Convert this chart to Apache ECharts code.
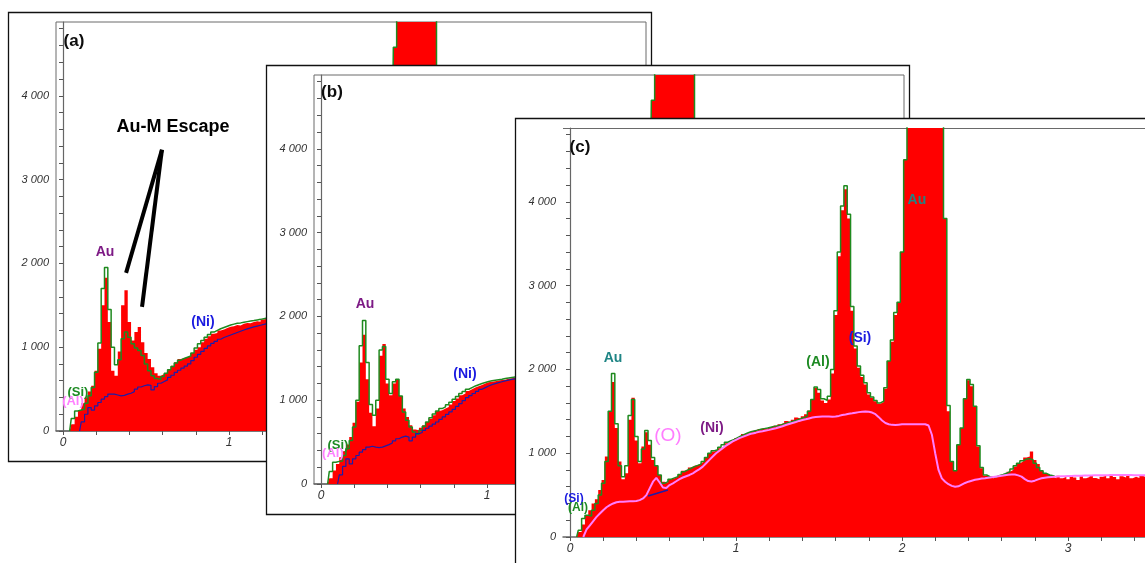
<!DOCTYPE html>
<html><head><meta charset="utf-8">
<script src="https://cdn.jsdelivr.net/npm/echarts@6/dist/echarts.min.js"></script>
<style>html,body{margin:0;padding:0;background:#fff}#c{width:1145px;height:563px}</style>
</head><body><div id="c"></div>
<script>
// ---------- data (energy bins of 0.02 keV; counts) ----------
const BIN = 0.02;

// Panel (a)
const A_RED_START = 0.00;
const A_RED = [0,0,0,80,170,250,330,400,470,540,720,980,1500,1830,1300,720,660,950,1500,1680,1300,1080,1180,1240,1060,930,860,760,690,660,680,700,740,780,820,860,870,880,890,930,970,1000,1060,1100,1130,1160,1170,1200,1210,1230,1245,1250,1265,1260,1280,1290,1285,1300,1310,1305,1330,1340,1350,1360,1370,1375];
const A_FIT_START = 0.04;
const A_FIT = [0,150,240,250,260,330,420,520,700,1050,1700,1950,1450,1000,790,850,1100,1180,1120,1040,990,960,900,800,720,660,625,615,650,690,730,770,810,845,865,880,895,930,990,1040,1080,1120,1150,1180,1200,1220,1235,1250,1265,1275,1285,1290,1298,1305,1312,1318,1325,1332,1340,1347,1354,1360,1366,1372];
const A_BKG_START = 0.10;
const A_BKG = [0,110,200,280,250,300,340,380,410,440,440,430,420,425,440,450,470,500,525,540,550,545,490,530,570,590,610,640,665,700,725,750,775,800,840,880,915,950,985,1015,1045,1070,1095,1115,1130,1145,1160,1175,1190,1205,1218,1230,1242,1252,1262,1272,1282,1290,1296,1302,1308];
const A_PEAK_START = 1.98;
const A_PEAK = [2900,4580,5600,7200,8600,9600,10200,10000,9400,8400,7300,6200,5500,5000,3800,1500,900];

// Panel (b)
const B_RED_START = 0.00;
const B_RED = [0,0,0,70,160,240,320,390,470,560,730,980,1450,1780,1250,850,690,900,1530,1670,1200,1060,1200,1250,1050,900,800,700,650,640,670,700,740,780,820,870,880,900,920,950,990,1020,1060,1080,1110,1130,1150,1165,1180,1200,1215,1220,1225,1235,1240,1245,1255,1262,1268,1275,1280,1285];
const B_FIT_START = 0.04;
const B_FIT = [0,150,260,270,275,340,420,520,680,1000,1650,1950,1450,950,820,1000,1600,1640,1250,1080,1220,1250,1050,860,760,680,620,595,640,690,740,790,835,870,900,920,945,975,1010,1045,1080,1105,1130,1150,1170,1185,1200,1212,1224,1232,1238,1244,1250,1258,1264,1270,1276,1282,1287,1292];
const B_BKG_START = 0.10;
const B_BKG = [0,110,210,300,240,300,340,380,410,440,450,440,435,440,455,470,490,515,540,560,572,560,515,560,600,615,640,665,690,715,740,770,800,830,860,890,925,960,995,1030,1055,1080,1105,1130,1150,1170,1185,1198,1210,1220,1230,1240,1248,1255,1262,1268,1274];
const B_PEAK_START = 1.98;
const B_PEAK = [2900,4580,5600,7200,8600,9600,10200,10000,9400,8400,7300,6200,5500,5000,3800,1500,900];

// Panel (c)
const C_RED_START = 0.00;
const C_RED = [0,0,0,60,150,260,320,400,450,560,680,960,1500,1850,1300,900,690,760,1400,1660,1150,880,1080,1250,1100,920,860,740,660,650,
690,700,720,750,790,800,830,850,860,880,900,950,990,1020,1035,1060,1080,1120,1140,1150,
1180,1200,1230,1235,1250,1270,1265,1290,1300,1295,1310,1330,1320,1345,1360,1385,1370,1400,1425,1410,
1440,1465,1510,1640,1780,1720,1630,1600,1640,1950,2650,3350,3900,4150,3800,2700,2250,2020,1910,1820,
1700,1660,1620,1590,1610,1770,2100,2330,2650,2800,3400,4500,7200,8600,9600,10200,10000,9400,8400,7300,
6200,5500,5000,3800,1500,900,800,1100,1300,1650,1870,1800,1550,1080,820,730,720,700,710,730,
740,750,780,800,840,880,900,950,960,1020,920,870,800,760,740,720,700,730,700,720,
690,735,710,680,725,700,715,740,705,690,720,730,700,745,715,690,725,710,735,700,
720,705,730,715,700,725,710];
const C_FIT_START = 0.04;
const C_FIT = [0,80,220,260,250,320,400,500,640,900,1500,1950,1350,850,720,850,1450,1640,1200,900,1050,1270,1150,950,850,740,640,660,
690,705,720,745,780,800,820,840,855,870,900,950,1000,1030,1040,1070,1100,1130,1150,1165,
1185,1205,1225,1240,1255,1265,1275,1285,1293,1300,1310,1320,1328,1338,1350,1362,1372,1385,1396,1410,
1425,1445,1500,1640,1790,1760,1650,1630,1680,2000,2700,3400,3950,4190,3850,2750,2280,2040,1930,1840,
1720,1670,1630,1600,1620,1780,2100,2350,2680,2800,3400,4500,7200,8600,9600,10200,10000,9400,8400,7300,
6200,5500,5000,3800,1570,900,790,1100,1300,1650,1880,1820,1560,1090,830,740,720,715,720,735,
745,760,780,810,850,880,910,930,935,920,880,830,790,760,740,730,725];
const C_BKG_START = 0.08;
const C_BKG = [0,90,140,190,240,280,320,355,380,400,415,420,422,424,426,428,430,440,460,500,580,660,705,650,590,585,620,640,665,690,
710,725,740,760,785,810,840,880,920,960,1000,1030,1060,1090,1115,1140,
1160,1180,1195,1210,1225,1236,1245,1255,1262,1270,1278,1288,1298,1310,1322,1336,1348,1360,1372,1385,
1396,1405,1415,1425,1432,1436,1438,1438,1437,1436,1438,1445,1455,1462,1470,1476,1483,1490,1495,1496,
1495,1485,1465,1430,1390,1360,1345,1338,1336,1340,1344,1345,1344,1345,1346,1345,1344,1345,1330,1220,
1000,800,700,660,630,610,600,605,625,645,660,672,682,690,697,702,708,714,720,726,
732,737,742,746,745,735,720,690,668,662,672,688,700,708,712,716,720,722,724,726,
728,729,730,731,732,733,734,735,736,737,737,738,738,739,739,740,740,740,739,739,738,738,737,737,736,736,735];
const C_BLUE_E = [0.47, 0.59];
const C_BLUE_V = [490, 560];

// axis ticks / labels
const X_LABELS = [0, 1, 2, 3];
const X_TICKS = [0,0.2,0.4,0.6,0.8,1,1.2,1.4,1.6,1.8,2,2.2,2.4,2.6,2.8,3,3.2,3.4];
const Y_LABELS = [0, 1000, 2000, 3000, 4000];
const Y_TICKS = [0,200,400,600,800,1000,1200,1400,1600,1800,2000,2200,2400,2600,2800,3000,3200,3400,3600,3800,4000,4200,4400,4600,4800];

// annotations (text, energy, counts)
const A_TEXT = [['(a)',0.066,4645],['Au-M Escape',0.663,3630],['Au',0.253,2137],['(Ni)',0.843,1301],['(Si)',0.090,466],['(Al)',0.060,358]];
const B_TEXT = [['(b)',0.066,4669],['Au',0.265,2149],['(Ni)',0.867,1307],['(Si)',0.102,466],['(Al)',0.072,370]];
const C_TEXT = [['(c)',0.060,4645],['Au',0.259,2137],['(O)',0.590,1206],['(Ni)',0.855,1301],['(Al)',1.494,2090],['(Si)',1.747,2376],['Au',2.090,4024],['(Si)',0.024,454],['(Al)',0.048,346]];
const ESCAPE_FROM = [0.596, 3355];
const ESCAPE_TO = [[0.380, 1887], [0.476, 1481]];

// ---------- layout & styles ----------
const CW = 1145;
const PANELS = [{x:8,y:12},{x:266,y:65},{x:515,y:118}];
const PW = 643, PH = 449, IL = 48, IT = 10, IW = 590, IH = 409;
const PX_PER_KEV = 166, ZERO_OFF = 7;
const XMIN = -ZERO_OFF / PX_PER_KEV;
const YMAX = 4880;
const FONT = '"Liberation Sans", Arial, sans-serif';
const RED = '#ff0000', GREEN = '#1f8a1f', BLUE = '#1c1caa', PINK = '#ff7dff';
const PURPLE = '#7d1a85', TEAL = '#1f8585', NIBLUE = '#1a1ae0', SIGREEN = '#1d8a23', ALPINK = '#ff80ff';

const STYLE = [
  {'(a)':['#0d0d0d',17], 'Au-M Escape':['#000',18], 'Au':[PURPLE,14], '(Ni)':[NIBLUE,14], '(Si)':[SIGREEN,13], '(Al)':[ALPINK,13]},
  {'(b)':['#0d0d0d',17], 'Au':[PURPLE,14], '(Ni)':[NIBLUE,14], '(Si)':[SIGREEN,13], '(Al)':[ALPINK,13]},
  [['#0d0d0d',17],[TEAL,14],[PINK,19,'normal'],[PURPLE,14],[SIGREEN,14],[NIBLUE,14],[TEAL,14],[NIBLUE,12],[SIGREEN,12]]
];
const TEXTS = [A_TEXT, B_TEXT, C_TEXT];

function pairs(start, arr) { return arr.map((v, i) => [Math.round((start + i * BIN) * 100) / 100, v]); }

const grids = [], xAxes = [], yAxes = [], series = [], frames = [];
PANELS.forEach((p, i) => {
  const left = p.x + IL, top = p.y + IT;
  const clipped = left + IW > CW;               // panel (c) runs past the picture edge
  const w = clipped ? CW - left : IW;
  frames.push({type:'rect', id:'frame' + i, zlevel:i, z:0, silent:true,
    shape:{x:p.x + 0.5, y:p.y + 0.5, width:PW, height:PH},
    style:{fill:'#fff', stroke:'#111', lineWidth:1.3}});
  if (clipped) {
    frames.push({type:'line', id:'topline' + i, zlevel:i, z:2, silent:true,
      shape:{x1:left, y1:top + 0.5, x2:CW, y2:top + 0.5}, style:{stroke:'#6a6a6a', lineWidth:1}});
  }
  grids.push({left:left, top:top, width:w, height:IH, show:true,
    backgroundColor:'#fff', borderColor:'#6a6a6a', borderWidth:clipped ? 0 : 1, zlevel:i, z:1});
  xAxes.push({type:'value', gridIndex:i, min:XMIN, max:XMIN + w / PX_PER_KEV, zlevel:i, z:2,
    axisLine:{show:true, onZero:false, lineStyle:{color:'#666', width:1.5}},
    axisTick:{show:true, customValues:X_TICKS, length:4, lineStyle:{color:'#555'}},
    axisLabel:{customValues:X_LABELS, fontStyle:'italic', fontSize:12, color:'#333', margin:6, fontFamily:FONT},
    splitLine:{show:false}});
  yAxes.push({type:'value', gridIndex:i, min:0, max:YMAX, zlevel:i, z:2,
    axisLine:{show:true, lineStyle:{color:'#666', width:1.2}},
    axisTick:{show:true, customValues:Y_TICKS, length:4, lineStyle:{color:'#555'}},
    axisLabel:{customValues:Y_LABELS, fontStyle:'italic', fontSize:11, color:'#333', margin:7, fontFamily:FONT,
      formatter: v => v === 0 ? '0' : (v / 1000) + ' 000'},
    splitLine:{show:false}});
});

function area(gi, data) {
  return {type:'line', xAxisIndex:gi, yAxisIndex:gi, zlevel:gi, z:3, step:'middle', symbol:'none', silent:true,
    data, lineStyle:{width:0, opacity:0}, itemStyle:{color:RED}, areaStyle:{color:RED, opacity:1}, clip:true};
}
function curve(gi, data, color, width, step, z) {
  return {type:'line', xAxisIndex:gi, yAxisIndex:gi, zlevel:gi, z:z || 4, step:step, symbol:'none', silent:true,
    data, lineStyle:{color, width}, itemStyle:{color}, clip:true};
}

// panel a
series.push(area(0, pairs(A_RED_START, A_RED)));
series.push(area(0, pairs(A_PEAK_START, A_PEAK)));
series.push(curve(0, pairs(A_FIT_START, A_FIT), GREEN, 1.5, 'middle'));
series.push(curve(0, pairs(A_PEAK_START, A_PEAK), GREEN, 1.5, 'middle'));
series.push(curve(0, pairs(A_BKG_START, A_BKG), BLUE, 1.2, 'middle', 5));
series.push({type:'lines', coordinateSystem:'cartesian2d', xAxisIndex:0, yAxisIndex:0, zlevel:0, z:7, silent:true,
  lineStyle:{color:'#000', width:4, opacity:1, curveness:0},
  data: ESCAPE_TO.map(t => ({coords:[ESCAPE_FROM, t]}))});
// panel b
series.push(area(1, pairs(B_RED_START, B_RED)));
series.push(area(1, pairs(B_PEAK_START, B_PEAK)));
series.push(curve(1, pairs(B_FIT_START, B_FIT), GREEN, 1.5, 'middle'));
series.push(curve(1, pairs(B_PEAK_START, B_PEAK), GREEN, 1.5, 'middle'));
series.push(curve(1, pairs(B_BKG_START, B_BKG), BLUE, 1.2, 'middle', 5));
// panel c
series.push(area(2, pairs(C_RED_START, C_RED)));
series.push(curve(2, pairs(C_FIT_START, C_FIT), GREEN, 1.5, 'middle'));
series.push(curve(2, C_BLUE_E.map((e, k) => [e, C_BLUE_V[k]]), BLUE, 1.5, false, 5));
series.push(curve(2, pairs(C_BKG_START, C_BKG), PINK, 2, false, 6));

const chart = echarts.init(document.getElementById('c'), null, {renderer:'canvas'});
chart.setOption({
  animation:false, backgroundColor:'#fff',
  grid:grids, xAxis:xAxes, yAxis:yAxes, series:series,
  graphic:{elements:frames}
});

// annotation texts placed through the panels' own coordinate systems
const texts = [];
TEXTS.forEach((list, gi) => {
  list.forEach((t, k) => {
    const st = Array.isArray(STYLE[gi]) ? STYLE[gi][k] : STYLE[gi][t[0]];
    const pt = chart.convertToPixel({gridIndex:gi}, [t[1], t[2]]);
    texts.push({type:'text', id:'t' + gi + '_' + k, zlevel:gi, z:20, silent:true, x:pt[0], y:pt[1],
      style:{text:t[0], fill:st[0], align:'center', verticalAlign:'middle',
        font:(st[2] || 'bold') + ' ' + st[1] + 'px ' + FONT}});
  });
});
chart.setOption({graphic:{elements:frames.concat(texts)}});
</script></body></html>
